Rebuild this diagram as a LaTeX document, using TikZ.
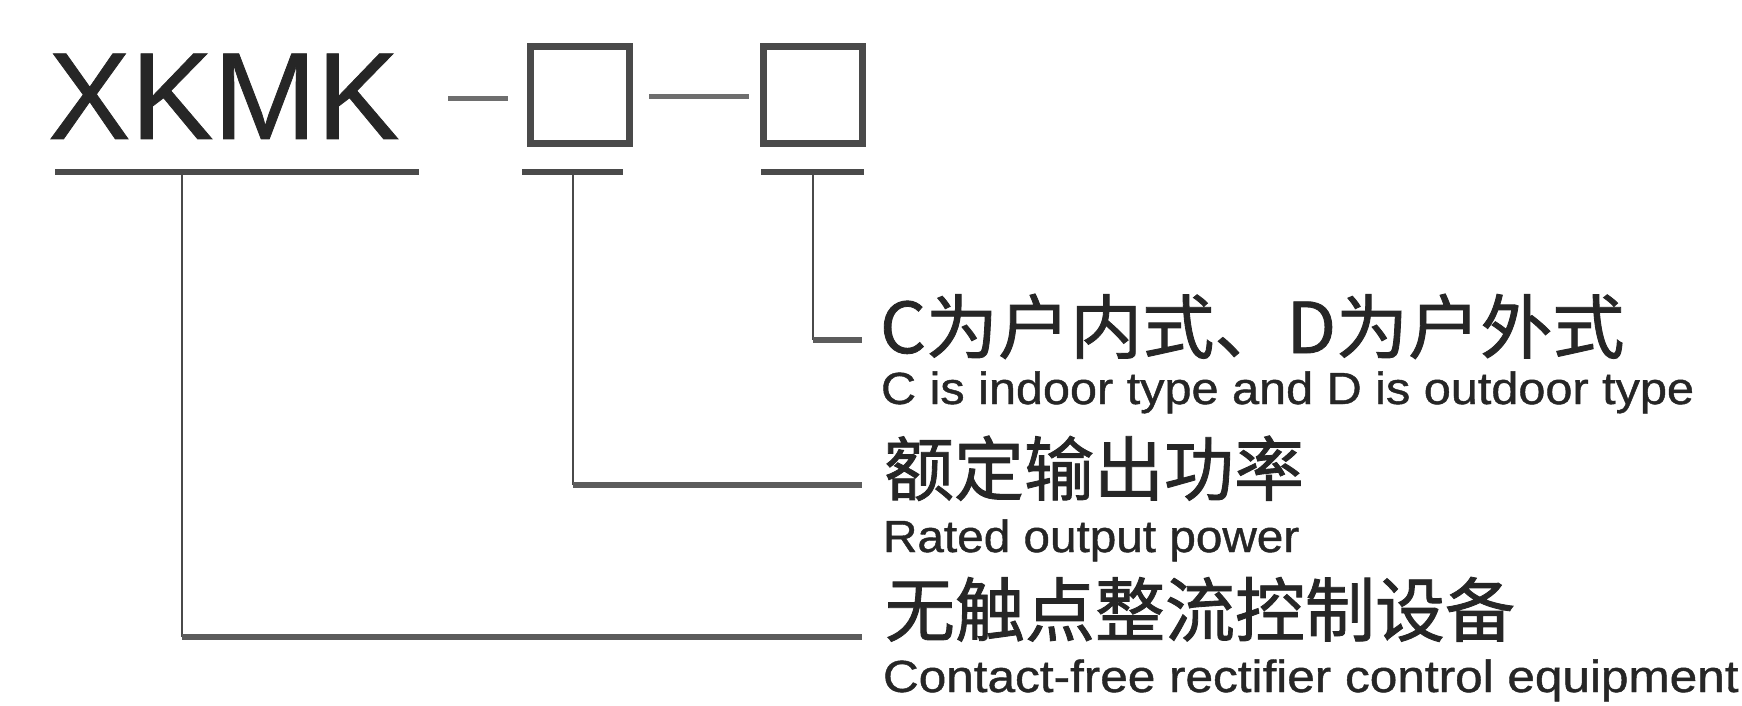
\documentclass[tikz,border=0pt]{standalone}
\usepackage{fontspec}
\usepackage{graphicx}
\setmainfont{Liberation Sans}[FakeBold=0.6]
\newfontfamily\cjk{Noto Sans CJK SC}[FakeBold=1.2]
\newfontfamily\engl{Liberation Sans}[FakeBold=0.9]
\definecolor{ink}{HTML}{262626}
\definecolor{linegray}{HTML}{4A4A4A}
\begin{document}
\begin{tikzpicture}[x=0.5pt,y=-0.5pt,
  txt/.style={inner sep=0pt,outer sep=0pt,anchor=base west,text=ink},
  codebox/.style={draw=linegray,line width=3.5pt,minimum width=49.5pt,minimum height=48.5pt,inner sep=0pt,fill=white},
  uline/.style={draw=linegray,line width=3pt},
  dashline/.style={draw=linegray!80,line width=2.5pt},
  vconn/.style={draw=linegray,line width=1.3pt},
  hconn/.style={draw=linegray!90,line width=2.6pt}]
\useasboundingbox[fill=white] (0,0) rectangle (1742,706);
% title code
\node[txt] (xk) at (48,139) {\fontsize{62pt}{62pt}\selectfont XKMK};
\node[codebox] (b1) at (579.5,95.5) {};
\node[codebox] (b2) at (812.5,95.5) {};
\coordinate (d1a) at (448,99); \coordinate (d1b) at (508,99);
\coordinate (d2a) at (649,97); \coordinate (d2b) at (749,97);
\draw[dashline] (d1a) -- (d1b);
\draw[dashline] (d2a) -- (d2b);
% underlines
\coordinate (ux1) at (55,172); \coordinate (ux2) at (419,172);
\coordinate (u1a) at (522,172); \coordinate (u1b) at (623,172);
\coordinate (u2a) at (761,172); \coordinate (u2b) at (864,172);
\draw[uline] (ux1) -- (ux2);
\draw[uline] (u1a) -- (u1b);
\draw[uline] (u2a) -- (u2b);
% labels
\node[txt] (c1) at (880,353) {\scalebox{1.03}[1]{\cjk\fontsize{35pt}{35pt}\selectfont C为户内式、D为户外式}};
\node[txt] (e1) at (881,404) {\scalebox{1.08}[1]{\engl\fontsize{22.5pt}{22.5pt}\selectfont C is indoor type and D is outdoor type}};
\node[txt] (c2) at (884,495) {\cjk\fontsize{35pt}{35pt}\selectfont 额定输出功率};
\node[txt] (e2) at (883,552) {\scalebox{1.06}[1]{\engl\fontsize{22.5pt}{22.5pt}\selectfont Rated output power}};
\node[txt] (c3) at (885,636) {\cjk\fontsize{35pt}{35pt}\selectfont 无触点整流控制设备};
\node[txt] (e3) at (883,692) {\scalebox{1.1}[1]{\engl\fontsize{22.5pt}{22.5pt}\selectfont Contact-free rectifier control equipment}};
% connectors
\coordinate (v0) at (182,172); \coordinate (k0) at (182,637); \coordinate (end0) at (862,637);
\coordinate (v1) at (573,172); \coordinate (k1) at (573,485); \coordinate (end1) at (862,485);
\coordinate (v2) at (813,172); \coordinate (k2) at (813,340); \coordinate (end2) at (862,340);
\draw[vconn] (v0) -- (k0);
\draw[hconn] (k0) -- (end0);
\draw[vconn] (v1) -- (k1);
\draw[hconn] (k1) -- (end1);
\draw[vconn] (v2) -- (k2);
\draw[hconn] (k2) -- (end2);
\end{tikzpicture}
\end{document}
